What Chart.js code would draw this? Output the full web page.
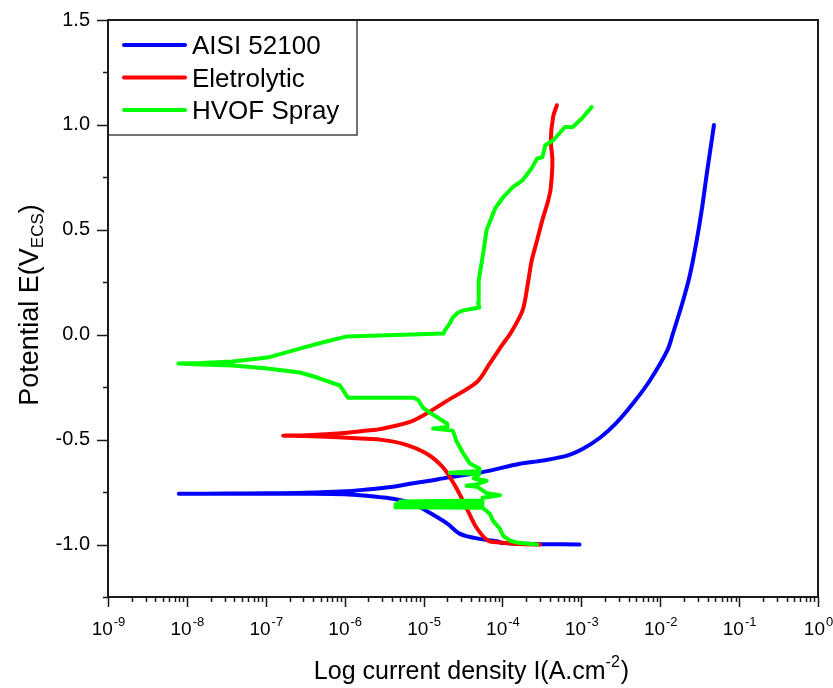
<!DOCTYPE html>
<html>
<head>
<meta charset="utf-8">
<script src="https://cdn.jsdelivr.net/npm/chart.js@4.4.1/dist/chart.umd.min.js"></script>
<style>
  html, body { margin: 0; padding: 0; background: #fff; }
</style>
</head>
<body>
<canvas id="chart-tafel" width="833" height="688"></canvas>
<script>
const seriesNames = ['AISI 52100', 'Eletrolytic', 'HVOF Spray'];
const seriesColors = ['#0000ff', '#ff0000', '#00ff00'];

// current density (A/cm2) and potential (V), in sweep order from -1.0 V upward
const aisiCurrent = [9.5e-4, 3.2e-4, 1.0e-4, 8.5e-5, 5.1e-5, 2.9e-5, 2.0e-5, 1.2e-5, 7.4e-6, 4.1e-6, 2.8e-6, 1.9e-6, 1.0e-6, 3.2e-7, 1e-7, 3.2e-8, 7.9e-9,
  3.2e-8, 1e-7, 3.2e-7, 1e-6, 1.9e-6, 2.8e-6, 4.1e-6, 7.4e-6, 1.2e-5, 2.0e-5, 5.6e-5, 1.66e-4, 3.2e-4, 6.6e-4, 1.05e-3, 1.74e-3, 2.8e-3, 4.5e-3, 7.4e-3, 1.23e-2, 1.45e-2, 1.95e-2, 2.4e-2, 2.9e-2, 3.4e-2, 3.9e-2, 4.5e-2, 4.8e-2];
const aisiPotential = [-1.0, -0.998, -0.993, -0.984, -0.973, -0.949, -0.90, -0.849, -0.806, -0.782, -0.774, -0.767, -0.760, -0.758, -0.758, -0.758, -0.758,
  -0.757, -0.756, -0.753, -0.746, -0.738, -0.732, -0.725, -0.708, -0.696, -0.681, -0.655, -0.615, -0.600, -0.576, -0.543, -0.49, -0.419, -0.328, -0.218, -0.075, 0.006, 0.163, 0.292, 0.45, 0.607, 0.77, 0.927, 1.0];

const eletroCurrent = [3.0e-4, 1.6e-4, 9.3e-5, 6.6e-5, 4.7e-5, 3.5e-5, 2.6e-5, 1.78e-5, 1.1e-5, 5.5e-6, 2.8e-6, 1.6e-6, 7.1e-7, 3.2e-7, 1.66e-7,
  3.2e-7, 7.1e-7, 1.9e-6, 2.8e-6, 7.4e-6, 2.0e-5, 4.8e-5, 6.9e-5, 1.02e-4, 1.26e-4, 1.8e-4, 2.1e-4, 2.35e-4, 2.75e-4, 3.2e-4, 3.8e-4, 4.1e-4, 4.3e-4, 4.1e-4, 4.4e-4, 4.9e-4];
const eletroPotential = [-1.0, -0.998, -0.99, -0.982, -0.92, -0.825, -0.73, -0.634, -0.567, -0.52, -0.50, -0.495, -0.488, -0.483, -0.481,
  -0.479, -0.472, -0.457, -0.450, -0.409, -0.314, -0.224, -0.137, -0.042, 0.006, 0.116, 0.245, 0.354, 0.45, 0.545, 0.64, 0.70, 0.83, 0.927, 1.04, 1.094];

const hvofCurrent = [2.75e-4, 1.5e-4, 1.26e-4, 1.02e-4, 9.3e-5, 7.6e-5, 6.9e-5, 5.6e-5,
  4.4e-6, 5.6e-5, 4.4e-6, 5.6e-5, 5.0e-6, 5.6e-5,
  5.6e-5, 9.3e-5, 6.3e-5, 4.8e-5, 3.5e-5, 4.8e-5, 6.3e-5, 4.3e-5, 5.1e-5, 2.15e-5, 5.1e-5, 5.1e-5, 3.9e-5, 3.2e-5, 2.6e-5, 2.35e-5, 1.32e-5, 2.0e-5, 2.0e-5, 1.2e-5, 9.8e-6, 8.5e-6, 7.4e-6,
  1.1e-6, 8.7e-7, 4.5e-7, 2.7e-7, 1.05e-7, 3.8e-8, 1.5e-8, 7.8e-9,
  1.5e-8, 3.8e-8, 1.05e-7, 2.7e-7, 5.2e-7, 1.07e-6, 1.78e-5, 1.86e-5, 2.15e-5, 2.35e-5, 2.75e-5, 3.2e-5, 5.1e-5, 4.9e-5, 5.0e-5, 5.6e-5, 6.3e-5, 6.9e-5, 8.1e-5,
  1.02e-4, 1.35e-4, 1.8e-4, 2.35e-4, 2.75e-4, 3.2e-4, 3.5e-4, 4.4e-4, 6.2e-4, 7.8e-4, 1.02e-3, 1.35e-3];
const hvofPotential = [-1.0, -0.99, -0.982, -0.958, -0.925, -0.887, -0.853, -0.825,
  -0.822, -0.815, -0.808, -0.800, -0.795, -0.79,
  -0.777, -0.765, -0.755, -0.725, -0.72, -0.712, -0.696, -0.685, -0.665, -0.658, -0.650, -0.638, -0.615, -0.567, -0.505, -0.457, -0.447, -0.440, -0.424, -0.371, -0.347, -0.31, -0.30,
  -0.30, -0.242, -0.204, -0.18, -0.161, -0.147, -0.142, -0.137,
  -0.135, -0.128, -0.109, -0.066, -0.037, -0.008, 0.006, 0.02, 0.054, 0.082, 0.106, 0.116, 0.13, 0.154, 0.259, 0.37, 0.5, 0.536, 0.603,
  0.655, 0.703, 0.736, 0.794, 0.84, 0.846, 0.903, 0.927, 0.99, 0.99, 1.032, 1.085];

const decadeExponents = [-9, -8, -7, -6, -5, -4, -3, -2, -1, 0];
const potentialMin = -1.25;
const potentialMax = 1.5;

const FONT = "Arial, 'Liberation Sans', sans-serif";

function toPoints(xs, ys) {
  return xs.map((x, i) => ({ x: x, y: ys[i] }));
}

const frameAndText = {
  id: 'frameAndText',
  afterDraw(chart) {
    const ctx = chart.ctx;
    const area = chart.chartArea;
    const xs = chart.scales.x;
    const ys = chart.scales.y;
    ctx.save();
    ctx.strokeStyle = '#1a1a1a';
    ctx.fillStyle = '#000';

    // x tick marks, majors at each decade, minors at 2..9
    ctx.lineWidth = 1.5;
    ctx.beginPath();
    decadeExponents.forEach((e) => {
      const px = Math.round(xs.getPixelForValue(Math.pow(10, e))) + 0.5;
      ctx.moveTo(px, area.bottom);
      ctx.lineTo(px, area.bottom + 10);
      if (e < 0) {
        for (let m = 2; m <= 9; m++) {
          const mx = Math.round(xs.getPixelForValue(m * Math.pow(10, e))) + 0.5;
          ctx.moveTo(mx, area.bottom);
          ctx.lineTo(mx, area.bottom + 5);
        }
      }
    });
    // y tick marks
    ys.ticks.forEach((t) => {
      const py = Math.round(ys.getPixelForValue(t.value)) + 0.5;
      const major = Math.abs(t.value * 2 - Math.round(t.value * 2)) < 1e-6;
      ctx.moveTo(area.left, py);
      ctx.lineTo(area.left - (major ? 11 : 5), py);
    });
    ctx.stroke();

    // frame
    ctx.lineWidth = 2;
    ctx.strokeRect(area.left, area.top, area.right - area.left, area.bottom - area.top);

    // x tick labels 10^n
    ctx.textBaseline = 'alphabetic';
    ctx.textAlign = 'left';
    decadeExponents.forEach((e) => {
      const px = xs.getPixelForValue(Math.pow(10, e));
      ctx.font = '19px ' + FONT;
      const base = '10';
      const wb = ctx.measureText(base).width;
      ctx.font = '13px ' + FONT;
      const sup = String(e);
      const ws = ctx.measureText(sup).width;
      const x0 = px - (wb + ws) / 2;
      ctx.font = '19px ' + FONT;
      ctx.fillText(base, x0, 635);
      ctx.font = '13px ' + FONT;
      ctx.fillText(sup, x0 + wb + 1, 626);
    });

    // x title with superscript
    const xt1 = 'Log current density I(A.cm';
    const xt2 = '-2';
    const xt3 = ')';
    ctx.font = '25px ' + FONT;
    const w1 = ctx.measureText(xt1).width;
    const w3 = ctx.measureText(xt3).width;
    ctx.font = '16px ' + FONT;
    const w2 = ctx.measureText(xt2).width;
    let tx = (area.left + area.right) / 2 + 8 - (w1 + w2 + w3) / 2;
    ctx.font = '25px ' + FONT;
    ctx.fillText(xt1, tx, 679);
    ctx.font = '16px ' + FONT;
    ctx.fillText(xt2, tx + w1, 667);
    ctx.font = '25px ' + FONT;
    ctx.fillText(xt3, tx + w1 + w2 + 1, 679);

    // y title with subscript, rotated
    const yt1 = 'Potential E(V';
    const yt2 = 'ECS';
    const yt3 = ')';
    ctx.font = '27px ' + FONT;
    const v1 = ctx.measureText(yt1).width;
    const v3 = ctx.measureText(yt3).width;
    ctx.font = '17px ' + FONT;
    const v2 = ctx.measureText(yt2).width;
    const total = v1 + v2 + v3;
    ctx.save();
    ctx.translate(38, 305 + total / 2);
    ctx.rotate(-Math.PI / 2);
    ctx.font = '27px ' + FONT;
    ctx.fillText(yt1, 0, 0);
    ctx.font = '17px ' + FONT;
    ctx.fillText(yt2, v1, 5);
    ctx.font = '27px ' + FONT;
    ctx.fillText(yt3, v1 + v2, 0);
    ctx.restore();

    // legend box
    ctx.fillStyle = '#fff';
    ctx.fillRect(area.left, area.top, 249, 115);
    ctx.strokeStyle = '#444';
    ctx.lineWidth = 1.5;
    ctx.strokeRect(area.left, area.top, 249, 115);
    ctx.font = '26px ' + FONT;
    ctx.lineCap = 'round';
    seriesNames.forEach((name, i) => {
      const ry = area.top + 25 + i * 32.5;
      ctx.strokeStyle = seriesColors[i];
      ctx.lineWidth = 4;
      ctx.beginPath();
      ctx.moveTo(area.left + 16, ry);
      ctx.lineTo(area.left + 77, ry);
      ctx.stroke();
      ctx.fillStyle = '#000';
      ctx.fillText(name, area.left + 84, ry + 9);
    });
    ctx.strokeStyle = '#1a1a1a';
    ctx.lineWidth = 2;
    ctx.beginPath();
    ctx.moveTo(area.left, area.top);
    ctx.lineTo(area.right, area.top);
    ctx.moveTo(area.left, area.top);
    ctx.lineTo(area.left, area.bottom);
    ctx.stroke();
    ctx.restore();
  }
};

const datasets = [
  [aisiCurrent, aisiPotential, 3],
  [eletroCurrent, eletroPotential, 2],
  [hvofCurrent, hvofPotential, 1]
].map(([xs, ys, ord], i) => ({
  label: seriesNames[i],
  data: toPoints(xs, ys),
  borderColor: seriesColors[i],
  backgroundColor: seriesColors[i],
  borderWidth: 4,
  pointRadius: 0,
  showLine: true,
  tension: i === 2 ? 0 : 0.3,
  borderCapStyle: 'round',
  borderJoinStyle: 'round',
  order: ord
}));

const tafelChart = new Chart(document.getElementById('chart-tafel'), {
  type: 'scatter',
  data: { datasets: datasets },
  options: {
    responsive: false,
    animation: false,
    devicePixelRatio: 1,
    layout: { padding: { top: 20, right: 15, left: 0, bottom: 0 } },
    plugins: { legend: { display: false }, tooltip: { enabled: false } },
    scales: {
      x: {
        type: 'logarithmic',
        min: 1e-9,
        max: 1,
        grid: { display: false, drawTicks: false },
        border: { display: false },
        ticks: { display: false },
        afterFit(scale) {
          scale.height = 91;
          scale.paddingLeft = 0;
          scale.paddingRight = 0;
        }
      },
      y: {
        type: 'linear',
        min: potentialMin,
        max: potentialMax,
        grid: { display: false, drawTicks: false },
        border: { display: false },
        ticks: {
          stepSize: 0.25,
          autoSkip: false,
          padding: 18,
          color: '#000',
          font: { size: 20, family: FONT },
          callback: (v) => Math.abs(v * 2 - Math.round(v * 2)) < 1e-6 ? v.toFixed(1) : ''
        },
        afterFit(scale) {
          scale.width = 108;
          scale.paddingTop = 0;
          scale.paddingBottom = 0;
        }
      }
    }
  },
  plugins: [frameAndText]
});
</script>
</body>
</html>
